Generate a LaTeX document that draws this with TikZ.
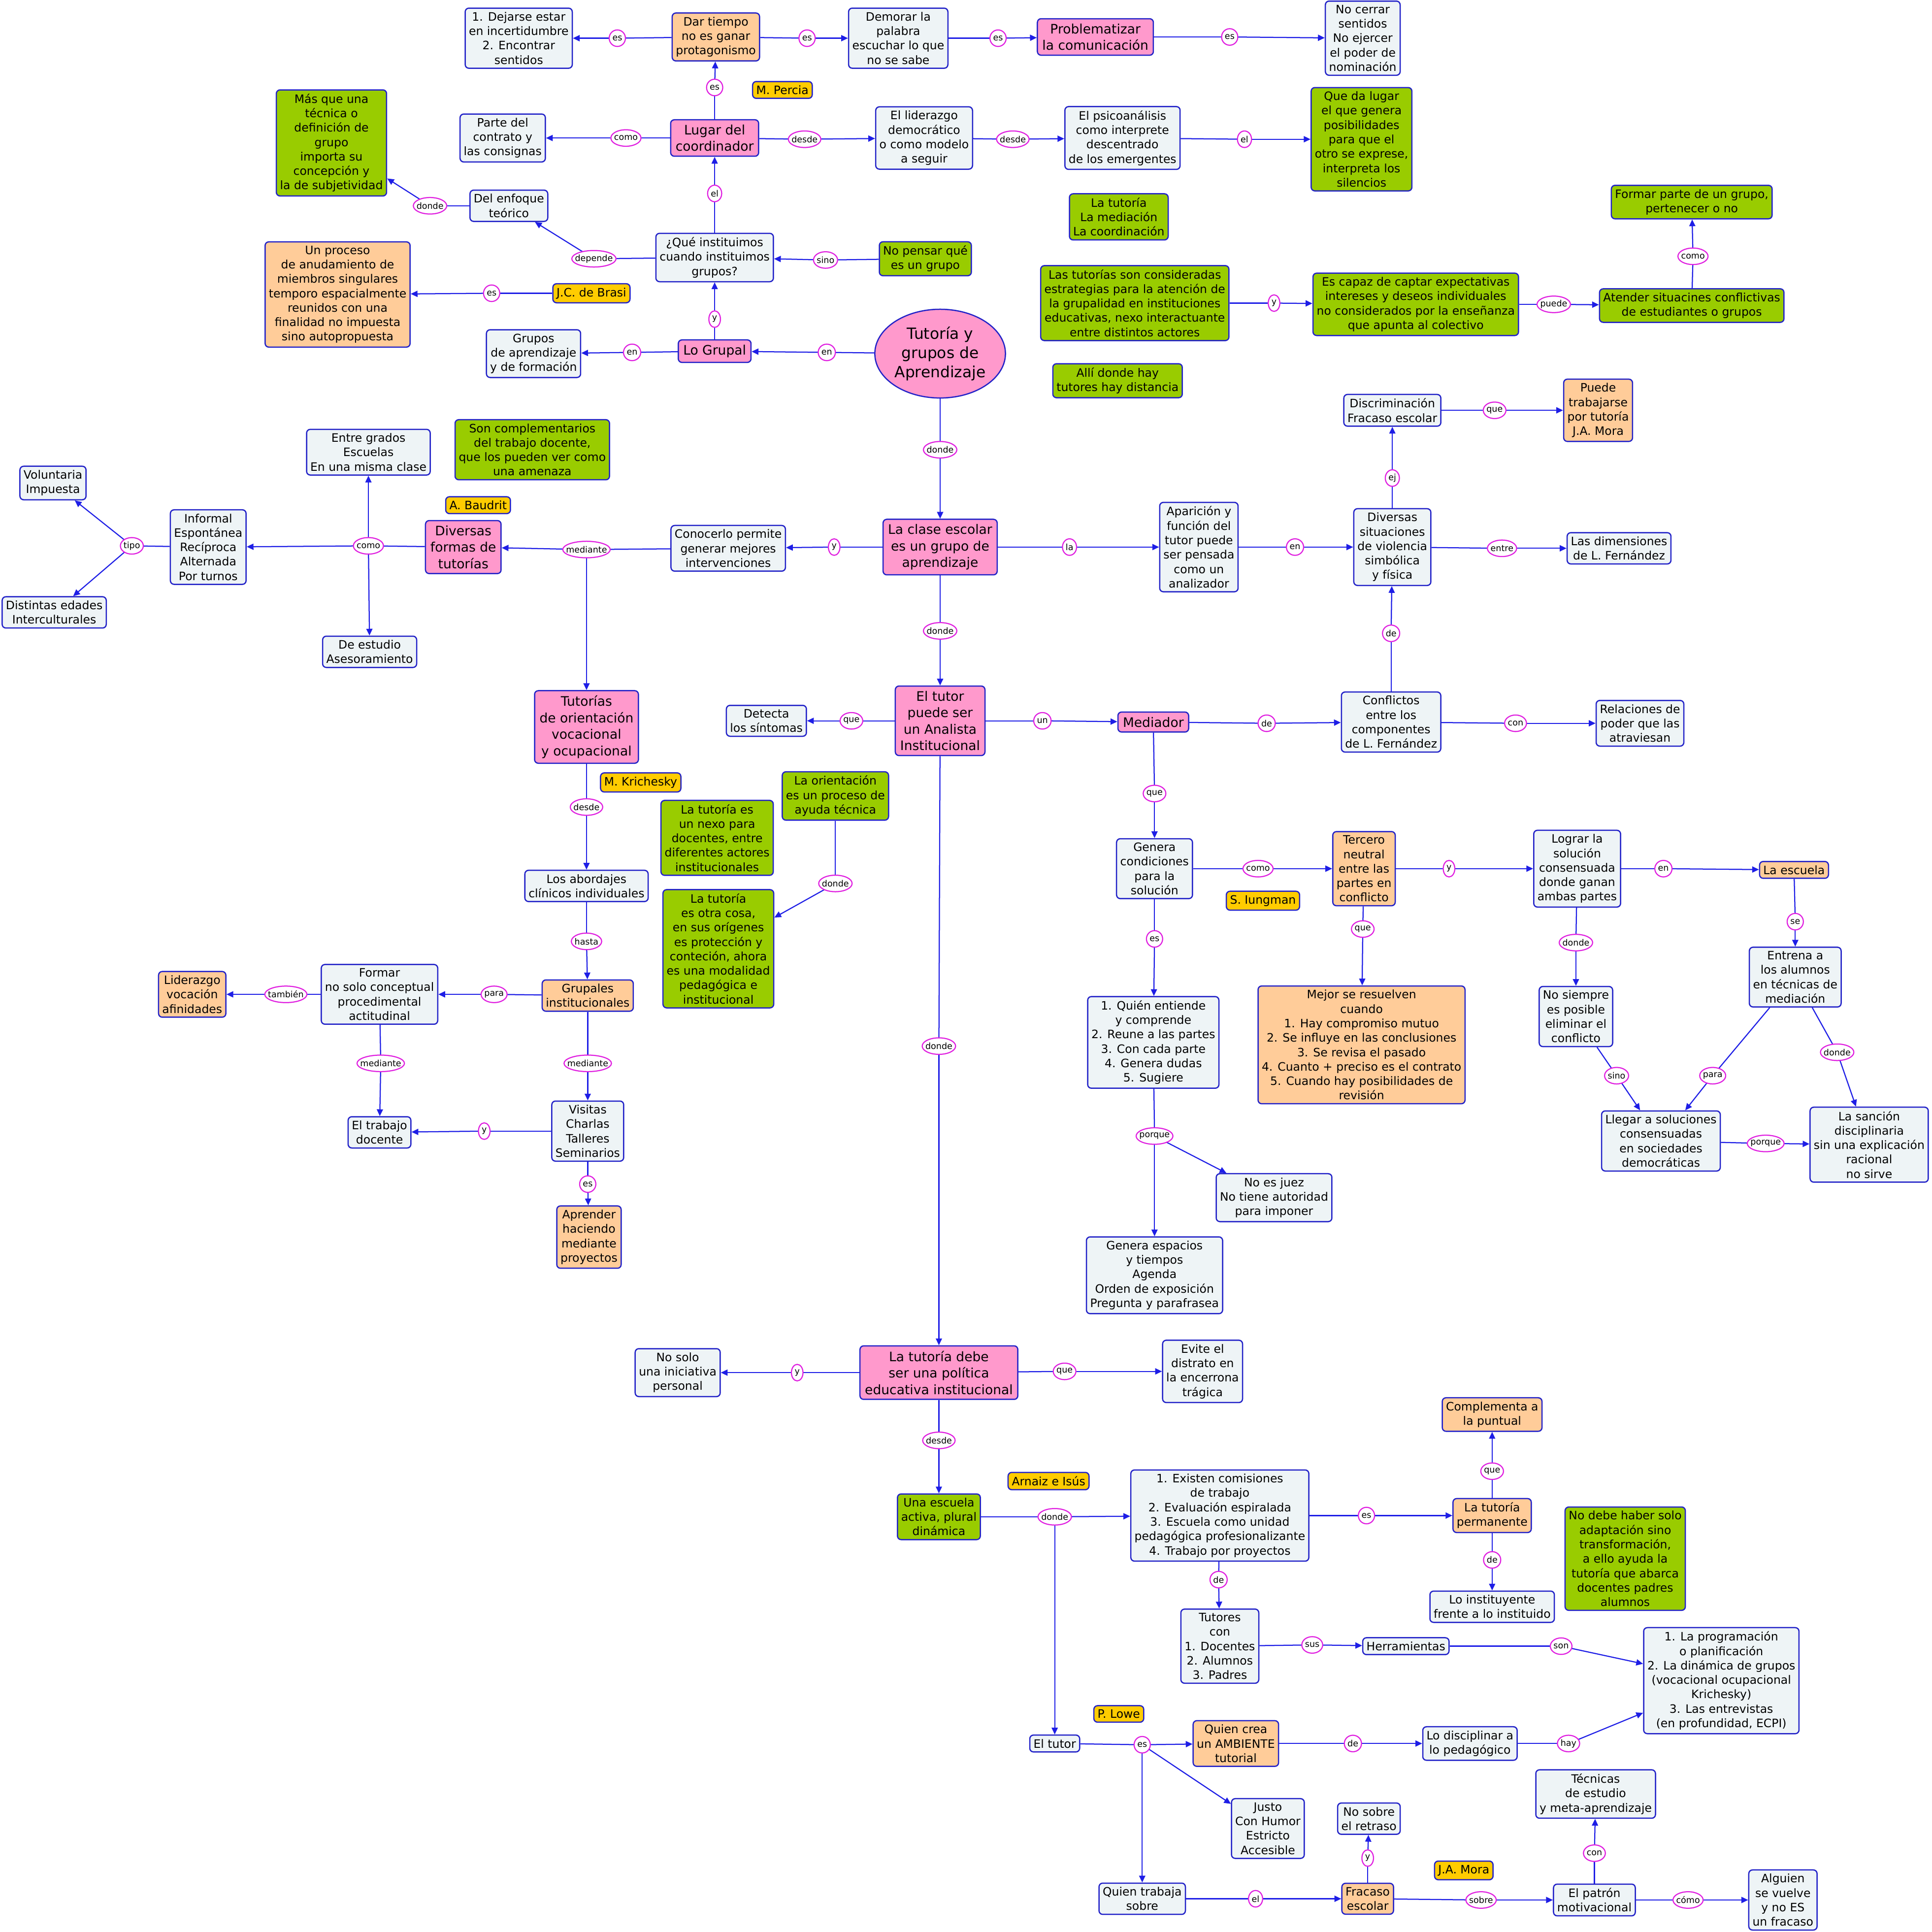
\documentclass[tikz,border=0pt]{standalone}
\usepackage{fontspec}
\setmainfont{DejaVu Sans}
\usetikzlibrary{arrows.meta,shapes.geometric,calc}
\definecolor{mapblue}{HTML}{2323C8}
\definecolor{linkblue}{HTML}{1E1EE6}
\definecolor{palefill}{HTML}{EEF4F6}
\definecolor{mappink}{HTML}{FF99CC}
\definecolor{mapapricot}{HTML}{FFCC99}
\definecolor{mapgreen}{HTML}{99CC00}
\definecolor{mapgold}{HTML}{FFCC00}
\definecolor{mapmagenta}{HTML}{E020E0}
\pgfdeclarelayer{background}
\pgfdeclarelayer{ovals}
\pgfsetlayers{background,ovals,main}
\tikzset{
  concept/.style={rectangle,rounded corners=3pt,draw=mapblue,line width=1pt,
    fill=palefill,align=center,inner xsep=3pt,inner ysep=3.2pt,
    font=\fontsize{9.4}{11.7}\selectfont},
  key concept/.style={concept,fill=mappink,inner xsep=4pt,inner ysep=4pt,
    font=\fontsize{10.6}{13.4}\selectfont},
  warm concept/.style={concept,fill=mapapricot},
  note box/.style={concept,fill=mapgreen},
  source tag/.style={concept,fill=mapgold},
  hub/.style={ellipse,draw=mapblue,line width=1pt,fill=mappink,align=center,
    minimum width=106pt,minimum height=72pt,inner sep=0pt,
    font=\fontsize{12.5}{15.5}\selectfont},
  lbl/.style={inner xsep=2.4pt,inner ysep=0pt,minimum height=13pt,
    minimum width=9pt,font=\fontsize{7}{8}\selectfont},
  oval/.style={draw=mapmagenta,line width=0.9pt,fill=white},
  link/.style={draw=linkblue,line width=0.9pt},
  arrow link/.style={link,-{Triangle[length=5.5pt,width=5pt]}}
}
\begin{document}
\begin{tikzpicture}[x=1pt,y=-1pt]
  \useasboundingbox (0,0) rectangle (1568,1568);
  % upper band
  \node[concept] (dejarse) at (421,31) {1. Dejarse estar\\en incertidumbre\\2. Encontrar\\sentidos};
  \node[warm concept] (dartiempo) at (581,30) {Dar tiempo\\no es ganar\\protagonismo};
  \node[concept] (demorar) at (729,31) {Demorar la\\palabra\\escuchar lo que\\no se sabe};
  \node[key concept] (problematizar) at (889,30) {Problematizar\\la comunicación};
  \node[concept] (nocerrar) at (1106,31) {No cerrar\\sentidos\\No ejercer\\el poder de\\nominación};
  \node[source tag] (percia) at (635,73) {M. Percia};
  \node[note box] (masque) at (269,116) {Más que una\\técnica o\\definición de\\grupo\\importa su\\concepción y\\la de subjetividad};
  \node[concept] (parte) at (408,112) {Parte del\\contrato y\\las consignas};
  \node[key concept] (lugar) at (580,112) {Lugar del\\coordinador};
  \node[concept] (liderazgo) at (750,112) {El liderazgo\\democrático\\o como modelo\\a seguir};
  \node[concept] (psico) at (911,112) {El psicoanálisis\\como interprete\\descentrado\\de los emergentes};
  \node[note box] (dalugar) at (1105,113) {Que da lugar\\el que genera\\posibilidades\\para que el\\otro se exprese,\\interpreta los\\silencios};
  \node[concept] (enfoque) at (413,167) {Del enfoque\\teórico};
  \node[note box] (mediacion) at (908,176) {La tutoría\\La mediación\\La coordinación};
  \node[note box] (pertenecer) at (1373,164) {Formar parte de un grupo,\\pertenecer o no};
  \node[concept] (instituimos) at (580,209) {¿Qué instituimos\\cuando instituimos\\grupos?};
  \node[note box] (nopensar) at (751,210) {No pensar qué\\es un grupo};
  \node[warm concept] (anudamiento) at (274,239) {Un proceso\\de anudamiento de\\miembros singulares\\temporo espacialmente\\reunidos con una\\finalidad no impuesta\\sino autopropuesta};
  \node[source tag] (brasi) at (480,238) {J.C. de Brasi};
  \node[note box] (estrategias) at (921,246) {Las tutorías son consideradas\\estrategias para la atención de\\la grupalidad en instituciones\\educativas, nexo interactuante\\entre distintos actores};
  \node[note box] (captar) at (1149,247) {Es capaz de captar expectativas\\intereses y deseos individuales\\no considerados por la enseñanza\\que apunta al colectivo};
  \node[note box] (atender) at (1373,248) {Atender situacines conflictivas\\de estudiantes o grupos};
  \node[concept] (grupos) at (433,287) {Grupos\\de aprendizaje\\y de formación};
  \node[key concept] (logrupal) at (580,285) {Lo Grupal};
  \node[hub] (tutoria) at (763,287) {Tutoría y\\grupos de\\Aprendizaje};
  \node[note box] (distancia) at (907,309) {Allí donde hay\\tutores hay distancia};
  \node[concept] (discrim) at (1130,333) {Discriminación\\Fracaso escolar};
  \node[warm concept] (trabajarse) at (1297,333) {Puede\\trabajarse\\por tutoría\\J.A. Mora};
  % middle band
  \node[note box] (complementarios) at (432,365) {Son complementarios\\del trabajo docente,\\que los pueden ver como\\una amenaza};
  \node[concept] (grados) at (299,367) {Entre grados\\Escuelas\\En una misma clase};
  \node[concept] (voluntaria) at (43,392) {Voluntaria\\Impuesta};
  \node[source tag] (baudrit) at (388,410) {A. Baudrit};
  \node[concept] (informal) at (169,444) {Informal\\Espontánea\\Recíproca\\Alternada\\Por turnos};
  \node[key concept] (diversas) at (376,444) {Diversas\\formas de\\tutorías};
  \node[concept] (conocerlo) at (591,445) {Conocerlo permite\\generar mejores\\intervenciones};
  \node[key concept] (clase) at (763,444) {La clase escolar\\es un grupo de\\aprendizaje};
  \node[concept] (aparicion) at (973,444) {Aparición y\\función del\\tutor puede\\ser pensada\\como un\\analizador};
  \node[concept] (violencia) at (1130,444) {Diversas\\situaciones\\de violencia\\simbólica\\y física};
  \node[concept] (dimensiones) at (1314,445) {Las dimensiones\\de L. Fernández};
  \node[concept] (edades) at (44,497) {Distintas edades\\Interculturales};
  \node[concept] (estudio) at (300,529) {De estudio\\Asesoramiento};
  \node[key concept] (vocacional) at (476,590) {Tutorías\\de orientación\\vocacional\\y ocupacional};
  \node[concept] (sintomas) at (622,585) {Detecta\\los síntomas};
  \node[key concept] (analista) at (763,585) {El tutor\\puede ser\\un Analista\\Institucional};
  \node[key concept] (mediador) at (936,586) {Mediador};
  \node[concept] (conflictos) at (1129,586) {Conflictos\\entre los\\componentes\\de L. Fernández};
  \node[concept] (poder) at (1331,587) {Relaciones de\\poder que las\\atraviesan};
  \node[source tag] (krichesky) at (520,635) {M. Krichesky};
  \node[note box] (ayuda) at (678,646) {La orientación\\es un proceso de\\ayuda técnica};
  \node[note box] (nexo) at (582,680) {La tutoría es\\un nexo para\\docentes, entre\\diferentes actores\\institucionales};
  \node[concept] (abordajes) at (476,719) {Los abordajes\\clínicos individuales};
  \node[concept] (condiciones) at (937,705) {Genera\\condiciones\\para la\\solución};
  \node[warm concept] (tercero) at (1107,705) {Tercero\\neutral\\entre las\\partes en\\conflicto};
  \node[source tag] (iungman) at (1025,731) {S. Iungman};
  \node[concept] (lograr) at (1280,705) {Lograr la\\solución\\consensuada\\donde ganan\\ambas partes};
  \node[warm concept] (laescuela) at (1456,706) {La escuela};
  \node[note box] (otracosa) at (583,770) {La tutoría\\es otra cosa,\\en sus orígenes\\es protección y\\conteción, ahora\\es una modalidad\\pedagógica e\\institucional};
  \node[concept] (entrena) at (1457,793) {Entrena a\\los alumnos\\en técnicas de\\mediación};
  \node[warm concept] (grupales) at (477,808) {Grupales\\institucionales};
  \node[concept] (formar) at (308,807) {Formar\\no solo conceptual\\procedimental\\actitudinal};
  \node[warm concept] (vocacion) at (156,807) {Liderazgo\\vocación\\afinidades};
  \node[concept] (nosiempre) at (1279,825) {No siempre\\es posible\\eliminar el\\conflicto};
  \node[concept] (entiende) at (936,846) {1. Quién entiende\\y comprende\\2. Reune a las partes\\3. Con cada parte\\4. Genera dudas\\5. Sugiere};
  \node[warm concept] (resuelven) at (1105,848) {Mejor se resuelven\\cuando\\1. Hay compromiso mutuo\\2. Se influye en las conclusiones\\3. Se revisa el pasado\\4. Cuanto + preciso es el contrato\\5. Cuando hay posibilidades de\\revisión};
  \node[concept] (docente) at (308,919) {El trabajo\\docente};
  \node[concept] (visitas) at (477,918) {Visitas\\Charlas\\Talleres\\Seminarios};
  \node[concept] (consensuadas) at (1348,926) {Llegar a soluciones\\consensuadas\\en sociedades\\democráticas};
  \node[concept] (sancion) at (1517,929) {La sanción\\disciplinaria\\sin una explicación\\racional\\no sirve};
  \node[concept] (juez) at (1034,972) {No es juez\\No tiene autoridad\\para imponer};
  \node[warm concept] (proyectos) at (478,1004) {Aprender\\haciendo\\mediante\\proyectos};
  \node[concept] (espacios) at (937,1035) {Genera espacios\\y tiempos\\Agenda\\Orden de exposición\\Pregunta y parafrasea};
  % lower band
  \node[concept] (iniciativa) at (550,1114) {No solo\\una iniciativa\\personal};
  \node[key concept] (politica) at (762,1114) {La tutoría debe\\ser una política\\educativa institucional};
  \node[concept] (distrato) at (976,1113) {Evite el\\distrato en\\la encerrona\\trágica};
  \node[warm concept] (puntual) at (1211,1148) {Complementa a\\la puntual};
  \node[source tag] (arnaiz) at (851,1202) {Arnaiz e Isús};
  \node[note box] (activa) at (762,1231) {Una escuela\\activa, plural\\dinámica};
  \node[concept] (comisiones) at (990,1230) {1. Existen comisiones\\de trabajo\\2. Evaluación espiralada\\3. Escuela como unidad\\pedagógica profesionalizante\\4. Trabajo por proyectos};
  \node[warm concept] (permanente) at (1211,1230) {La tutoría\\permanente};
  \node[note box] (adaptacion) at (1319,1265) {No debe haber solo\\adaptación sino\\transformación,\\a ello ayuda la\\tutoría que abarca\\docentes padres\\alumnos};
  \node[concept] (instituyente) at (1211,1304) {Lo instituyente\\frente a lo instituido};
  \node[concept] (tutores) at (990,1336) {Tutores\\con\\1. Docentes\\2. Alumnos\\3. Padres};
  \node[concept] (herramientas) at (1141,1336) {Herramientas};
  \node[concept] (programacion) at (1397,1364) {1. La programación\\o planificación\\2. La dinámica de grupos\\(vocacional ocupacional\\Krichesky)\\3. Las entrevistas\\(en profundidad, ECPI)};
  \node[source tag] (lowe) at (908,1391) {P. Lowe};
  \node[concept] (eltutor) at (856,1415) {El tutor};
  \node[warm concept] (ambiente) at (1003,1415) {Quien crea\\un AMBIENTE\\tutorial};
  \node[concept] (disciplinar) at (1193,1415) {Lo disciplinar a\\lo pedagógico};
  \node[concept] (tecnicas) at (1295,1456) {Técnicas\\de estudio\\y meta-aprendizaje};
  \node[concept] (retraso) at (1111,1476) {No sobre\\el retraso};
  \node[concept] (justo) at (1029,1484) {Justo\\Con Humor\\Estricto\\Accesible};
  \node[source tag] (mora) at (1188,1518) {J.A. Mora};
  \node[concept] (trabajasobre) at (927,1541) {Quien trabaja\\sobre};
  \node[warm concept] (fracaso) at (1110,1541) {Fracaso\\escolar};
  \node[concept] (patron) at (1294,1542) {El patrón\\motivacional};
  \node[concept] (alguien) at (1447,1542) {Alguien\\se vuelve\\y no ES\\un fracaso};
  % linking phrases
  \foreach \k/\x/\y/\t in {1/501/31/es, 2/655/31/es, 3/810/31/es, 4/998/30/es,
      5/580/71/es, 6/508/112/como, 7/653/113/desde, 8/822/113/desde, 9/1010/113/el,
      10/580/157/el, 11/349/167/donde, 12/482/210/depende, 13/670/211/sino,
      14/399/238/es, 15/580/259/y, 16/513/286/en, 17/671/286/en, 18/1034/246/y,
      19/1261/247/puede, 20/1374/208/como, 21/763/365/donde, 22/1213/333/que,
      23/1130/388/ej, 24/107/443/tipo, 25/299/443/como, 26/476/446/mediante,
      27/677/444/y, 28/868/444/la, 29/1051/444/en, 30/1219/445/entre,
      31/763/512/donde, 32/1129/514/de, 33/691/585/que, 34/846/585/un,
      35/1028/587/de, 36/1230/587/con, 37/476/655/desde, 38/937/644/que,
      39/678/717/donde, 40/1021/705/como, 41/1176/705/y, 42/1350/705/en,
      43/1457/748/se, 44/1106/754/que, 45/937/762/es, 46/1279/765/donde,
      47/476/764/hasta, 48/401/807/para, 49/232/807/también, 50/309/863/mediante,
      51/477/863/mediante, 52/393/918/y, 53/477/961/es, 54/1390/873/para,
      55/1491/854/donde, 56/1312/873/sino, 57/1433/928/porque, 58/937/922/porque,
      59/762/849/donde, 60/647/1114/y, 61/864/1113/que, 62/762/1169/desde,
      63/856/1231/donde, 64/1109/1230/es, 65/1211/1194/que, 66/1211/1266/de,
      67/989/1282/de, 68/1065/1335/sus, 69/1267/1336/son, 70/927/1416/es,
      71/1098/1415/de, 72/1273/1415/hay, 73/1019/1541/el, 74/1110/1508/y,
      75/1202/1542/sobre, 76/1294/1504/con, 77/1370/1542/cómo}
    \node[lbl] (k\k) at (\x,\y) {\t};
  \begin{pgfonlayer}{ovals}
    \foreach \k in {1,...,77}
      \draw[oval] let \p1=($(k\k.east)-(k\k.center)$), \p2=($(k\k.north)-(k\k.center)$)
        in (k\k.center) ellipse [x radius=\x1, y radius=\y2];
  \end{pgfonlayer}
  \begin{pgfonlayer}{background}
    \fill[white] (0,0) rectangle (1568,1568);
    \foreach \a/\k in {dartiempo/1, dartiempo/2, demorar/3, problematizar/4, lugar/5,
        lugar/6, lugar/7, liderazgo/8, psico/9, instituimos/10, enfoque/11,
        instituimos/12, nopensar/13, brasi/14, logrupal/15, logrupal/16, tutoria/17,
        estrategias/18, captar/19, atender/20, tutoria/21, discrim/22, violencia/23,
        informal/24, diversas/25, conocerlo/26, clase/27, clase/28, aparicion/29,
        violencia/30, clase/31, conflictos/32, analista/33, analista/34, mediador/35,
        conflictos/36, vocacional/37, mediador/38, ayuda/39, condiciones/40,
        tercero/41, lograr/42, laescuela/43, tercero/44, condiciones/45, lograr/46,
        abordajes/47, grupales/48, formar/49, formar/50, grupales/51, visitas/52,
        visitas/53, entrena/54, entrena/55, nosiempre/56, consensuadas/57,
        entiende/58, analista/59, politica/60, politica/61, politica/62, activa/63,
        comisiones/64, permanente/65, permanente/66, comisiones/67, tutores/68,
        herramientas/69, eltutor/70, ambiente/71, disciplinar/72, trabajasobre/73,
        fracaso/74, fracaso/75, patron/76, patron/77}
      \draw[link] (\a) -- (k\k.center);
    \foreach \k/\b in {1/dejarse, 2/demorar, 3/problematizar, 4/nocerrar, 5/dartiempo,
        6/parte, 7/liderazgo, 8/psico, 9/dalugar, 10/lugar, 11/masque, 12/enfoque,
        13/instituimos, 14/anudamiento, 15/instituimos, 16/grupos, 17/logrupal,
        18/captar, 19/atender, 20/pertenecer, 21/clase, 22/trabajarse, 23/discrim,
        24/voluntaria, 24/edades, 25/informal, 25/grados, 25/estudio, 26/diversas,
        26/vocacional, 27/conocerlo, 28/aparicion, 29/violencia, 30/dimensiones,
        31/analista, 32/violencia, 33/sintomas, 34/mediador, 35/conflictos, 36/poder,
        37/abordajes, 38/condiciones, 39/otracosa, 40/tercero, 41/lograr,
        42/laescuela, 43/entrena, 44/resuelven, 45/entiende, 46/nosiempre,
        47/grupales, 48/formar, 49/vocacion, 50/docente, 51/visitas, 52/docente,
        53/proyectos, 54/consensuadas, 55/sancion, 56/consensuadas, 57/sancion,
        58/juez, 58/espacios, 59/politica, 60/iniciativa, 61/distrato, 62/activa,
        63/comisiones, 63/eltutor, 64/permanente, 65/puntual, 66/instituyente,
        67/tutores, 68/herramientas, 69/programacion, 70/ambiente, 70/justo,
        70/trabajasobre, 71/disciplinar, 72/programacion, 73/fracaso, 74/retraso,
        75/patron, 76/tecnicas, 77/alguien}
      \draw[arrow link] (k\k.center) -- (\b);
  \end{pgfonlayer}
\end{tikzpicture}
\end{document}
